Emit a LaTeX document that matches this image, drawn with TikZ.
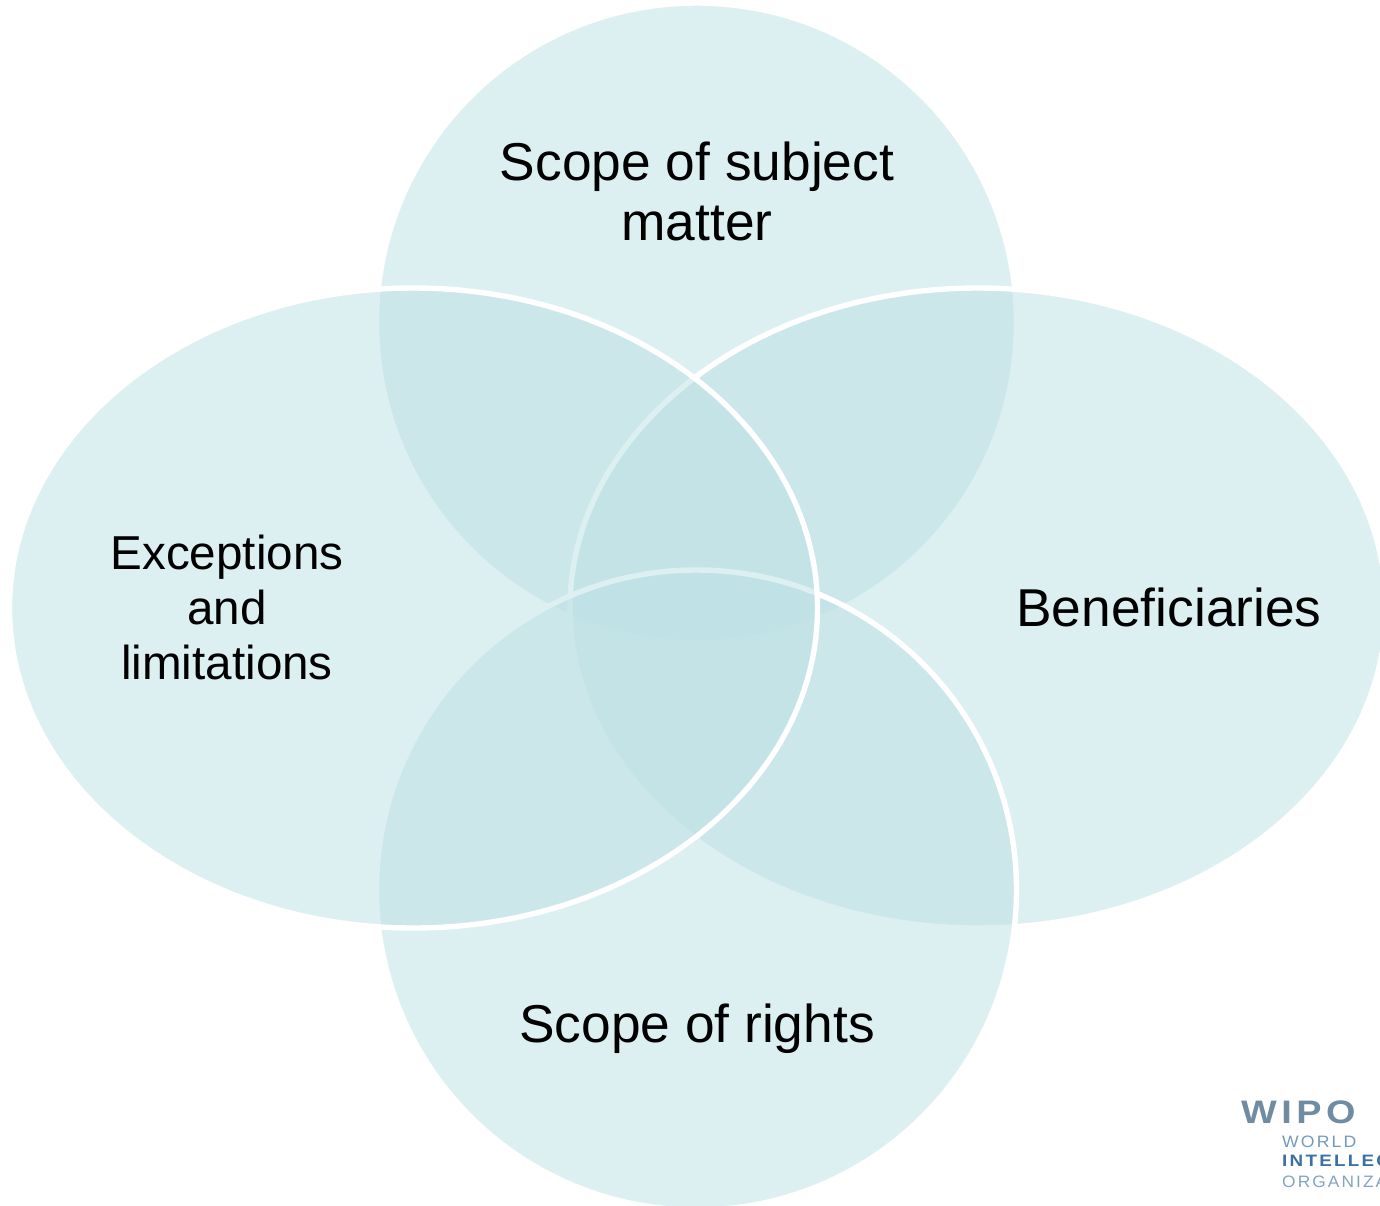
\documentclass[tikz,border=0pt]{standalone}
\usepackage{graphicx}
\usepackage{fontspec}
\setmainfont{Liberation Sans}
\newfontfamily\logofont[LetterSpace=12]{Liberation Sans}
\definecolor{vennfill}{RGB}{190,225,229}
\definecolor{wipoA}{RGB}{112,140,162}
\definecolor{wipoB}{RGB}{115,155,190}
\definecolor{wipoC}{RGB}{60,112,165}
\definecolor{wipoD}{RGB}{130,165,190}
\tikzset{
  vennshape/.style={fill=vennfill,fill opacity=0.53,draw=white,draw opacity=1,line width=5.4pt},
  biglabel/.style={align=center,text=black,font=\fontsize{53.3}{60}\selectfont,inner sep=0pt},
  sidelabel/.style={align=center,text=black,font=\fontsize{47.6}{55}\selectfont,inner sep=0pt},
  logomark/.style={anchor=base west,inner sep=0pt}
}
\begin{document}
\begin{tikzpicture}[x=1pt,y=-1pt]
\useasboundingbox (0,0) rectangle (1380,1205);
\begin{scope}
\clip (0,0) rectangle (1380,1205);
\fill[white] (0,0) rectangle (1380,1205);
\draw[vennshape] (696.5,323) ellipse [x radius=320, y radius=320];
\draw[vennshape] (978,608) ellipse [x radius=408, y radius=320];
\draw[vennshape] (696.5,890) ellipse [x radius=320, y radius=320];
\draw[vennshape] (413.5,608) ellipse [x radius=404, y radius=320];
\node[biglabel] (top) at (697,191) {Scope of subject\\matter};
\node[biglabel] (right) at (1169,607) {Beneficiaries};
\node[biglabel] (bottom) at (697,1029) {Scope of rights};
\node[sidelabel] (left) at (227,607.5) {Exceptions\\and\\limitations};
\node[logomark,text=wipoA] (wipo) at (1241,1123) {\scalebox{1.22}[1.05]{\fontsize{31}{31}\logofont\bfseries WIPO}};
\node[logomark,text=wipoB] (world) at (1282,1147) {\scalebox{1.07}[1]{\fontsize{16.5}{16.5}\logofont WORLD}};
\node[logomark,text=wipoC] (intel) at (1282,1166) {\scalebox{1.14}[1]{\fontsize{16.5}{16.5}\logofont\bfseries INTELLEC}};
\node[logomark,text=wipoD] (org) at (1282,1187) {\scalebox{1.05}[1]{\fontsize{16.5}{16.5}\logofont ORGANIZA}};
\end{scope}
\end{tikzpicture}
\end{document}
